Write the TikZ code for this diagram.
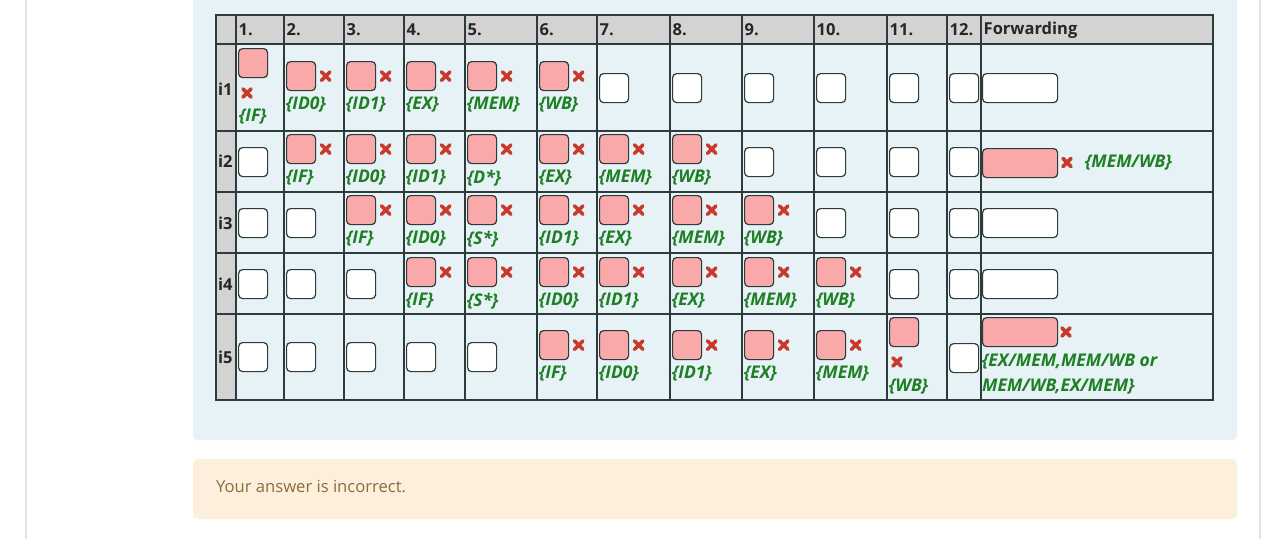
\documentclass[tikz,border=0pt]{standalone}
\usepackage{fontspec}
\setmainfont{Open Sans}
\usetikzlibrary{calc}
\definecolor{panel}{HTML}{E6F2F5}
\definecolor{cellbg}{HTML}{E6F2F6}
\definecolor{hdr}{HTML}{D3D3D3}
\definecolor{grid}{HTML}{2E3B3B}
\definecolor{pinkf}{HTML}{F9A9A9}
\definecolor{xred}{HTML}{C93A2C}
\definecolor{lgreen}{HTML}{1E7F24}
\definecolor{beige}{HTML}{FCEFDC}
\definecolor{beigetxt}{HTML}{8A6D3B}
\definecolor{pageline}{HTML}{E2E2E2}
\tikzset{
  abox/.style={draw=grid, line width=1.2pt, rounded corners=4pt, minimum width=29pt, minimum height=29pt, inner sep=0pt, anchor=north west},
  pbox/.style={abox, fill=pinkf},
  wbox/.style={abox, fill=white},
  xline/.style={draw=xred, line width=3.6pt, line cap=round},
  lab/.style={anchor=west, inner sep=0pt, text=lgreen, font=\fontsize{17.5}{20}\selectfont\bfseries\itshape},
  hd/.style={anchor=west, inner sep=0pt, font=\fontsize{16.5}{19}\selectfont\bfseries, text=black!85},
  gridline/.style={draw=grid, line width=1.2pt},
}
\newcommand\xm[1]{\draw[xline] ($(#1)+(-4.2,-4.2)$) -- ($(#1)+(4.2,4.2)$) ($(#1)+(-4.2,4.2)$) -- ($(#1)+(4.2,-4.2)$);}
\newcommand\cellP[4]{%
  \node[pbox] (#1) at (#2+2,#3) {};
  \coordinate (#1x) at ($(#1.east)+(9.5,0)$);
  \xm{#1x}
  \node[lab] (#1l) at (#2+2,#3+44) {\{#4\}};
}
\newcommand\cellW[3]{\node[wbox] (#1) at (#2+2,#3) {};}
\begin{document}
\begin{tikzpicture}[x=1pt,y=-1pt]
\useasboundingbox (0,0) rectangle (1280,539);
\fill[white] (0,0) rectangle (1280,539);
% page side lines
\draw[pageline, line width=1.5pt] (26,0) -- (26,539);
\draw[pageline, line width=1.5pt] (1260,0) -- (1260,539);
% panels
\fill[panel, rounded corners=5pt] (193,-10) rectangle (1237,440);
\fill[beige, rounded corners=5pt] (193,459) rectangle (1237,519);
\node[anchor=west, inner sep=0pt, text=beigetxt, font=\fontsize{16.6}{19}\selectfont] (msg) at (216,487) {Your answer is incorrect.};
% table
\fill[cellbg] (216,15) rectangle (1213,400);
\fill[hdr] (216,15) rectangle (1213,44);
\fill[hdr] (216,44) rectangle (236,400);
\foreach \c in {236,284,344,404,465,537,597,670,742,814,887,947,981}
  \draw[gridline] (\c,15) -- (\c,400);
\foreach \r in {44,131,192,253,314}
  \draw[gridline] (216,\r) -- (1213,\r);
\draw[draw=grid, line width=2pt] (216,15) rectangle (1213,400);
% header
\foreach \c/\t [count=\k] in {236/1.,284/2.,344/3.,404/4.,465/5.,537/6.,597/7.,670/8.,742/9.,814/10.,887/11.,947/12.,981/Forwarding}
  \node[hd] (h\k) at (\c+2.5,30) {\t};
\foreach \y/\t [count=\k] in {89/i1,161/i2,223/i3,284/i4,357/i5}
  \node[hd] (rl\k) at (218,\y) {\t};
% row i1
\node[pbox] (r1a) at (238,48) {};
\coordinate (r1ax) at (247,93); \xm{r1ax}
\node[lab] (r1al) at (239,117) {\{IF\}};
\foreach \c/\l [count=\k] in {284/ID0,344/ID1,404/EX,465/MEM,537/WB}
  {\cellP{r1p\k}{\c}{61}{\l}}
\foreach \c [count=\k] in {597,670,742,814,887,947}
  {\cellW{r1w\k}{\c}{73}}
\node[wbox, minimum width=75pt] (r1f) at (982,73) {};
% row i2
\cellW{r2w0}{236}{147}
\foreach \c/\l [count=\k] in {284/IF,344/ID0,404/ID1,465/D*,537/EX,597/MEM,670/WB}
  {\cellP{r2p\k}{\c}{134}{\l}}
\foreach \c [count=\k] in {742,814,887,947}
  {\cellW{r2w\k}{\c}{147}}
\node[pbox, minimum width=75pt] (r2f) at (982,148) {};
\coordinate (r2fx) at (1067,162.5); \xm{r2fx}
\node[lab] (r2fl) at (1085,162.5) {\{MEM/WB\}};
% row i3
\foreach \c [count=\k] in {236,284}
  {\cellW{r3v\k}{\c}{208}}
\foreach \c/\l [count=\k] in {344/IF,404/ID0,465/S*,537/ID1,597/EX,670/MEM,742/WB}
  {\cellP{r3p\k}{\c}{195}{\l}}
\foreach \c [count=\k] in {814,887,947}
  {\cellW{r3w\k}{\c}{208}}
\node[wbox, minimum width=75pt] (r3f) at (982,208) {};
% row i4
\foreach \c [count=\k] in {236,284,344}
  {\cellW{r4v\k}{\c}{269}}
\foreach \c/\l [count=\k] in {404/IF,465/S*,537/ID0,597/ID1,670/EX,742/MEM,814/WB}
  {\cellP{r4p\k}{\c}{257}{\l}}
\foreach \c [count=\k] in {887,947}
  {\cellW{r4w\k}{\c}{269}}
\node[wbox, minimum width=75pt] (r4f) at (982,269) {};
% row i5
\foreach \c [count=\k] in {236,284,344,404,465}
  {\cellW{r5v\k}{\c}{342}}
\foreach \c/\l [count=\k] in {537/IF,597/ID0,670/ID1,742/EX,814/MEM}
  {\cellP{r5p\k}{\c}{330}{\l}}
\node[pbox] (r5a) at (889,317) {};
\coordinate (r5ax) at (897,362); \xm{r5ax}
\node[lab] (r5al) at (889,387) {\{WB\}};
\cellW{r5w}{947}{343}
\node[pbox, minimum width=75pt] (r5f) at (982,317) {};
\coordinate (r5fx) at (1066,332); \xm{r5fx}
\node[lab] (r5fl1) at (982,362) {\{EX/MEM,MEM/WB or};
\node[lab] (r5fl2) at (982,387) {MEM/WB,EX/MEM\}};
\end{tikzpicture}
\end{document}
